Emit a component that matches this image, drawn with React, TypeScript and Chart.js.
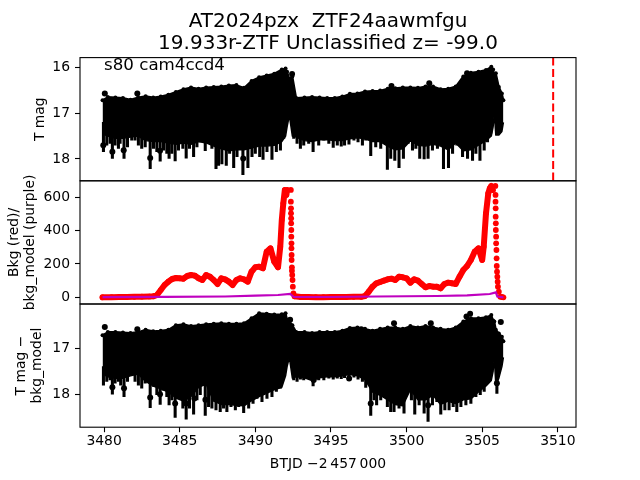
import React, { useEffect, useRef } from "react";
import { Chart, registerables } from "chart.js";

Chart.register(...registerables);

const FONT = "'DejaVu Sans'";
const titleLines = ["AT2024pzx  ZTF24aawmfgu", "19.933r-ZTF Unclassified z= -99.0"];
const note = "s80 cam4ccd4";
const noteAt = [3480, 16.06];
const alertTime = [3509.69, 3509.69];
const alertMag = [15.79, 18.48];

const xTicks = [3480, 3485, 3490, 3495, 3500, 3505, 3510];
const magTicks = [16, 17, 18];
const bkgTicks = [0, 200, 400, 600];
const diffTicks = [17, 18];

const times = [
  3479.9, 3480.25, 3480.75, 3481.25, 3481.75, 3482.25, 3482.75, 3483.25, 3483.75, 3484.25, 3484.75, 3485.25, 3485.75, 3486.25, 3486.75, 3487.25, 3487.75, 3488.25, 3488.75, 3489.25, 3489.75, 3490.25, 3490.75, 3491.25, 3491.75, 3492.0, 3492.1,
  3492.25,
  3492.45, 3492.7, 3493.25, 3493.75, 3494.25, 3494.75, 3495.25, 3495.75, 3496.25, 3496.75, 3497.25, 3497.75, 3498.25, 3498.75, 3499.25, 3499.75, 3500.25, 3500.75, 3501.25, 3501.75, 3502.25, 3502.75, 3503.25, 3503.75, 3504.25, 3504.75, 3505.25, 3505.6, 3505.72,
  3505.8,
  3505.9, 3506.1, 3506.3, 3506.4,
];
const magTop = [
  16.72, 16.65, 16.66, 16.67, 16.71, 16.66, 16.63, 16.66, 16.64, 16.6, 16.54, 16.48, 16.44, 16.47, 16.44, 16.43, 16.42, 16.4, 16.39, 16.45, 16.3, 16.22, 16.18, 16.14, 16.05, 16.03, 16.1,
  16.25,
  16.2, 16.67, 16.66, 16.65, 16.66, 16.67, 16.67, 16.64, 16.58, 16.57, 16.53, 16.52, 16.51, 16.47, 16.46, 16.44, 16.44, 16.45, 16.42, 16.42, 16.48, 16.47, 16.42, 16.2, 16.12, 16.1, 16.06, 15.99, 16.05,
  16.2,
  16.13, 16.43, 16.57, 16.72,
];
const magLow = [
  17.45, 17.5, 17.55, 17.55, 17.52, 17.5, 17.6, 17.62, 17.62, 17.65, 17.68, 17.65, 17.68, 17.62, 17.65, 17.72, 17.78, 17.82, 17.8, 17.8, 17.76, 17.72, 17.72, 17.7, 17.62, 17.5, 17.3,
  17.05,
  17.5, 17.52, 17.6, 17.62, 17.58, 17.58, 17.6, 17.6, 17.56, 17.54, 17.56, 17.62, 17.62, 17.72, 17.8, 17.78, 17.6, 17.7, 17.72, 17.68, 17.72, 17.8, 17.65, 17.82, 17.8, 17.7, 17.6, 17.5, 17.3,
  17.0,
  17.48, 17.48, 17.4, 17.2,
];
const diffTop = [
  16.72, 16.65, 16.65, 16.66, 16.67, 16.65, 16.6, 16.63, 16.62, 16.6, 16.5, 16.48, 16.52, 16.5, 16.48, 16.47, 16.46, 16.47, 16.47, 16.46, 16.35, 16.24, 16.25, 16.27, 16.26, 16.24, 16.38,
  16.42,
  16.5, 16.65, 16.65, 16.67, 16.65, 16.65, 16.65, 16.62, 16.56, 16.55, 16.58, 16.62, 16.58, 16.55, 16.55, 16.58, 16.52, 16.55, 16.52, 16.55, 16.58, 16.6, 16.55, 16.42, 16.35, 16.35, 16.33, 16.28, 16.4,
  16.42,
  16.6, 16.68, 16.75, 16.85,
];
const diffLow = [
  17.55, 17.62, 17.65, 17.65, 17.6, 17.56, 17.72, 17.82, 17.88, 17.95, 18.08, 18.15, 18.05, 17.85, 17.78, 18.15, 18.22, 18.22, 18.24, 18.25, 18.14, 18.05, 17.98, 17.9, 17.85, 17.6, 17.4,
  17.2,
  17.65, 17.62, 17.64, 17.7, 17.64, 17.62, 17.62, 17.6, 17.57, 17.6, 17.68, 17.95, 18.02, 18.12, 18.22, 18.25, 17.9, 18.12, 18.12, 18.02, 18.22, 18.15, 18.2, 18.12, 18.1, 17.95, 17.82, 17.7, 17.5,
  17.2,
  17.8, 17.65, 17.4, 17.2,
];

const magSpikeTime = [3479.96, 3480.18, 3480.4, 3480.55, 3480.73, 3480.95, 3481.06, 3481.32, 3481.55, 3481.83, 3482.05, 3482.27, 3482.49, 3482.72, 3483.05, 3483.27, 3483.49, 3483.71, 3483.93, 3484.15, 3484.3, 3484.48, 3484.7, 3484.92, 3485.21, 3485.43, 3485.65, 3485.92, 3486.14, 3486.36, 3486.53, 3486.69, 3486.91, 3487.13, 3487.4, 3487.57, 3487.79, 3488.08, 3488.3, 3488.57, 3488.79, 3489.18, 3489.51, 3489.78, 3490, 3490.29, 3490.51, 3490.77, 3491.1, 3491.39, 3491.66, 3491.88,
  3492.54, 3492.76, 3492.98, 3493.2, 3493.53, 3493.82, 3494.19, 3494.53, 3494.86, 3495.15, 3495.42, 3495.68, 3495.9, 3496.19, 3496.52, 3496.79, 3497.08, 3497.3, 3497.63, 3497.96, 3498.29, 3498.73, 3498.95, 3499.22, 3499.5, 3499.79, 3500.1, 3500.39, 3500.61, 3500.87, 3501.16, 3501.42, 3501.71, 3502.04, 3502.44, 3502.77, 3503.04, 3503.32, 3503.7, 3504.03, 3504.36, 3504.58, 3504.85, 3505.13, 3505.35, 3505.57];
const magSpikeLow = [17.84, 17.7, 17.66, 17.99, 17.7, 17.77, 17.66, 17.99, 17.74, 17.59, 17.59, 17.7, 17.77, 17.74, 18.21, 17.77, 17.84, 18.05, 17.81, 17.88, 17.99, 17.88, 18.04, 17.81, 17.77, 17.98, 17.77, 17.95, 17.74, 17.63, 17.59, 17.82, 17.66, 17.77, 18.21, 18.14, 18.11, 18.14, 17.88, 18.19, 17.95, 18.34, 18.19, 17.95, 17.88, 17.95, 18.01, 17.84, 18.01, 17.84, 17.81, 17.55,
  17.55, 17.66, 17.77, 17.7, 17.66, 17.84, 17.7, 17.59, 17.66, 17.75, 17.7, 17.72, 17.7, 17.68, 17.59, 17.63, 17.7, 17.59, 17.93, 17.74, 17.77, 18.23, 17.99, 18.03, 18.19, 17.99, 17.66, 17.81, 17.77, 17.99, 18, 17.99, 17.81, 17.77, 18.21, 18.19, 17.88, 17.7, 17.95, 17.99, 18.03, 17.88, 18.03, 17.81, 17.63, 17.44];
const diffSpikeTime = [3479.96, 3480.18, 3480.4, 3480.55, 3480.73, 3480.95, 3481.1, 3481.32, 3481.55, 3481.83, 3482.05, 3482.27, 3482.49, 3482.72, 3483.05, 3483.27, 3483.49, 3483.71, 3483.93, 3484.15, 3484.3, 3484.48, 3484.7, 3484.92, 3485.21, 3485.43, 3485.65, 3485.92, 3486.14, 3486.36, 3486.53, 3486.69, 3486.91, 3487.13, 3487.4, 3487.68, 3487.9, 3488.12, 3488.39, 3488.68, 3488.9, 3489.23, 3489.56, 3489.85, 3490.11, 3490.44, 3490.77, 3491.1, 3491.39, 3491.66, 3491.88,
  3492.54, 3492.76, 3492.98, 3493.2, 3493.53, 3493.82, 3494.19, 3494.53, 3494.86, 3495.15, 3495.42, 3495.68, 3495.9, 3496.19, 3496.52, 3496.79, 3497.08, 3497.3, 3497.63, 3497.85, 3498.02, 3498.29, 3498.73, 3498.95, 3499.17, 3499.5, 3499.83, 3500.1, 3500.32, 3500.54, 3500.83, 3501.16, 3501.42, 3501.71, 3502, 3502.26, 3502.53, 3502.81, 3503.08, 3503.32, 3503.59, 3503.92, 3504.25, 3504.58, 3504.87, 3505.13, 3505.46, 3505.97];
const diffSpikeLow = [17.8, 17.72, 17.69, 18, 17.76, 17.72, 17.8, 18.05, 17.72, 17.58, 17.72, 17.8, 17.87, 17.76, 18.29, 17.83, 18.01, 18.22, 17.91, 18.05, 18.23, 18.12, 18.5, 18.05, 18.3, 18.54, 18.3, 18.43, 18.12, 18.01, 17.8, 18.46, 18.27, 18.3, 18.34, 18.38, 18.3, 18.38, 18.27, 18.34, 18.27, 18.4, 18.3, 18.2, 18.09, 18.16, 18.09, 18.05, 17.94, 17.87, 17.58,
  17.69, 17.72, 17.67, 17.69, 17.65, 17.82, 17.69, 17.69, 17.65, 17.67, 17.65, 17.66, 17.64, 17.67, 17.63, 17.67, 17.72, 17.85, 18.46, 18.12, 18.23, 18.12, 18.27, 18.38, 18.38, 18.3, 18.41, 17.76, 18.12, 18.43, 18.23, 18.41, 18.59, 18.23, 18.16, 18.43, 18.34, 18.34, 18.27, 18.38, 18.27, 18.23, 18.2, 18.05, 18.01, 17.94, 17.69, 17.98];

const magOutTime = [3479.95, 3480.05, 3480.55, 3481.3, 3482.2, 3483.05, 3483.7, 3489.2, 3492.43, 3499.0, 3501.5, 3504.0];
const magOutVal = [17.7, 16.57, 17.84, 17.81, 16.57, 17.98, 17.82, 17.99, 16.15, 16.41, 16.35, 16.13];
const diffOutTime = [3480.05, 3480.55, 3481.32, 3482.2, 3483.05, 3483.7, 3484.7, 3485.43, 3485.97, 3486.7, 3492.3, 3493.86, 3496.2, 3497.0, 3497.63, 3499.17, 3501.42, 3501.6, 3503.96, 3504.2, 3505.97, 3506.23];
const diffOutVal = [16.54, 17.85, 17.87, 16.59, 18.07, 18.0, 18.2, 18.2, 18.09, 18.12, 16.38, 17.69, 17.66, 16.59, 18.2, 16.46, 18.24, 16.46, 16.31, 16.25, 17.76, 16.43];

const bkgBandTime = [
  3479.9, 3480.5, 3481, 3481.5, 3482, 3482.5, 3483, 3483.25, 3483.5, 3483.75, 3484, 3484.25, 3484.5, 3484.75, 3485, 3485.25, 3485.5, 3485.75, 3486, 3486.25, 3486.5, 3486.75, 3487, 3487.25, 3487.5, 3487.75, 3488, 3488.25, 3488.5, 3488.75, 3489, 3489.25, 3489.5, 3489.75, 3490, 3490.25, 3490.5, 3490.75, 3491, 3491.25, 3491.5, 3491.65, 3491.75, 3491.85, 3491.95, 3492.05, 3492.1,
  3492.3,
  3492.6, 3493, 3493.5, 3494, 3494.5, 3495, 3495.5, 3496, 3496.5, 3497, 3497.25, 3497.5, 3497.75, 3498, 3498.25, 3498.5, 3498.75, 3499, 3499.25, 3499.5, 3499.75, 3500, 3500.25, 3500.5, 3500.75, 3501, 3501.25, 3501.5, 3501.75, 3502, 3502.25, 3502.5, 3502.75, 3503, 3503.25, 3503.5, 3503.75, 3504, 3504.25, 3504.5, 3504.75, 3505, 3505.1, 3505.25, 3505.4, 3505.5, 3505.6, 3505.7,
];
const bkgBandVal = [
  0, 1, 2, 2, 3, 4, 5, 6, 14, 44, 74, 94, 110, 116, 114, 112, 128, 134, 130, 114, 104, 134, 124, 104, 80, 114, 108, 94, 74, 104, 114, 108, 94, 154, 180, 184, 174, 274, 294, 214, 180, 304, 464, 564, 644, 614, 644,
  null,
  6, 2, 2, 1, 1, 2, 2, 2, 3, 3, 8, 34, 64, 84, 92, 100, 108, 112, 104, 124, 120, 114, 88, 108, 100, 80, 60, 68, 64, 64, 54, 80, 88, 84, 80, 124, 164, 188, 224, 274, 294, 224, 304, 504, 624, 654, 668, 644,
];
const bkgDropTime = [3492.35, 3492.35, 3492.36, 3492.36, 3492.37, 3492.37, 3492.38, 3492.38, 3492.39, 3492.39, 3492.4, 3492.4, 3492.42, 3492.42, 3492.44, 3492.46, 3492.48, 3492.52, 3505.87, 3505.88, 3505.88, 3505.89, 3505.89, 3505.9, 3505.9, 3505.92, 3505.92, 3505.94, 3505.95, 3505.96, 3505.98, 3506, 3506.02, 3506.04, 3506.1, 3506.2, 3506.3, 3506.4];
const bkgDropVal = [644, 574, 534, 504, 474, 444, 404, 364, 324, 294, 254, 224, 180, 160, 134, 104, 64, 24, 668, 614, 574, 534, 484, 444, 404, 364, 324, 284, 234, 188, 154, 124, 94, 64, 34, 4, 2, 0];
const modelTime = [3479.9, 3484, 3488, 3490, 3491.5, 3492.3, 3492.55, 3495, 3498, 3502, 3504, 3505.5, 3505.9, 3506, 3506.4];
const modelVal = [1, 3, 5, 10, 14, 20, 2, 2, 5, 8, 12, 20, 30, 5, 0];

const points = (xs: number[], ys: (number | null)[]) => xs.map((x, i) => ({ x, y: ys[i] }));
const spikes = (xs: number[], lows: number[], start: number) => xs.map((x, i) => ({ x, y: [start, lows[i]] }));

const frame = {
  id: "frame",
  afterDraw(chart: any) {
    const { ctx, chartArea, scales } = chart;
    ctx.save();
    ctx.strokeStyle = "#000";
    ctx.lineWidth = 1.1;
    for (const id of ["y1", "y2", "y3"]) {
      const s = scales[id];
      ctx.strokeRect(chartArea.left, s.top, chartArea.width, s.height);
    }
    ctx.fillStyle = "#000";
    ctx.font = `16.67px ${FONT}`;
    ctx.textBaseline = "alphabetic";
    ctx.fillText(note, scales.x.getPixelForValue(noteAt[0]), scales.y1.getPixelForValue(noteAt[1]));
    ctx.restore();
  },
};

function yAxis(weight: number, min: number, max: number, reverse: boolean, ticks: number[], text: string[], pad: number) {
  return {
    type: "linear",
    position: "left",
    stack: "panels",
    stackWeight: 1,
    weight,
    min,
    max,
    reverse,
    afterFit: (s: any) => { s.width = 80; },
    afterBuildTicks: (s: any) => { s.ticks = ticks.map((value) => ({ value })); },
    grid: { drawOnChartArea: false, drawTicks: true, tickLength: 5, tickColor: "#000", tickWidth: 1.1 },
    border: { display: false },
    ticks: { color: "#000", font: { family: FONT, size: 13.9 }, padding: 5, callback: (v: any) => String(v) },
    title: { display: true, text, color: "#000", font: { family: FONT, size: 13.9, lineHeight: 1.15 }, padding: { top: pad, bottom: 0 } },
  };
}

function bodyDatasets(axis: string, top: (number | null)[], low: (number | null)[], st: number[], sl: number[], spikeStart: number, ot: number[], ov: number[]) {
  return [
    { type: "scatter", yAxisID: axis, data: points(ot, ov), showLine: false, pointRadius: 3, pointBorderWidth: 0, backgroundColor: "#000", borderColor: "#000", order: 3 },
    { type: "bar", yAxisID: axis, data: spikes(st, sl, spikeStart), backgroundColor: "#000", barThickness: 2.4, grouped: false, order: 4 },
    { type: "line", yAxisID: axis, data: points(times, top), borderColor: "#000", backgroundColor: "#000", borderWidth: 2, borderJoinStyle: "round", pointRadius: 2, pointBorderWidth: 0, fill: "+1", spanGaps: false, order: 5 },
    { type: "line", yAxisID: axis, data: points(times, low), borderColor: "#000", backgroundColor: "#000", borderWidth: 1.5, borderJoinStyle: "round", pointRadius: 0, fill: false, spanGaps: false, order: 6 },
  ];
}

export default function App() {
  const ref = useRef<HTMLCanvasElement>(null);
  useEffect(() => {
    const chart = new Chart(ref.current as HTMLCanvasElement, {
      type: "line",
      data: {
        datasets: [
          { type: "line", yAxisID: "y1", data: points(alertTime, alertMag), borderColor: "#ff0000", borderWidth: 2, borderDash: [8, 3.5], pointRadius: 0, order: 0 },
          ...bodyDatasets("y1", magTop, magLow, magSpikeTime, magSpikeLow, 17.2, magOutTime, magOutVal),
          { type: "line", yAxisID: "y2", data: points(modelTime, modelVal), borderColor: "#bf00bf", borderWidth: 2.2, pointRadius: 0, order: 1 },
          { type: "line", yAxisID: "y2", data: points(bkgBandTime, bkgBandVal), borderColor: "#ff0000", backgroundColor: "#ff0000", borderWidth: 6, borderJoinStyle: "round", borderCapStyle: "round", pointRadius: 2.8, pointBorderWidth: 0, spanGaps: false, order: 2 },
          { type: "line", yAxisID: "y2", data: points(bkgDropTime, bkgDropVal), showLine: false, pointRadius: 2.9, pointBorderWidth: 0, backgroundColor: "#ff0000", borderColor: "#ff0000", order: 2 },
          ...bodyDatasets("y3", diffTop, diffLow, diffSpikeTime, diffSpikeLow, 17.4, diffOutTime, diffOutVal),
        ] as any,
      },
      options: {
        responsive: false,
        animation: false,
        layout: { autoPadding: false, padding: { left: 0, right: 64, top: 0, bottom: 0 } },
        plugins: {
          legend: { display: false },
          tooltip: { enabled: false },
          title: {
            display: true,
            fullSize: false,
            text: titleLines,
            color: "#000",
            font: { family: FONT, size: 20, weight: "normal", lineHeight: 1.1 },
            padding: { top: 11, bottom: 2.6 },
          },
        },
        scales: {
          x: {
            type: "linear",
            offset: false,
            min: 3478.41,
            max: 3511.2,
            afterFit: (s: any) => { s.height = 52.8; },
            afterBuildTicks: (s: any) => { s.ticks = xTicks.map((value) => ({ value })); },
            grid: { offset: false, drawOnChartArea: false, drawTicks: true, tickLength: 5, tickColor: "#000", tickWidth: 1.1 },
            border: { display: false },
            ticks: { color: "#000", font: { family: FONT, size: 13.9 }, maxRotation: 0, autoSkip: false, padding: 1, callback: (v: any) => String(v) },
            title: { display: true, text: "BTJD \u22122\u2009457\u2009000", color: "#000", font: { family: FONT, size: 13.9 }, padding: { top: 3, bottom: 7 } },
          },
          y1: yAxis(3, 15.79, 18.476, true, magTicks, ["T mag"], 32),
          y2: yAxis(2, -40, 699, false, bkgTicks, ["Bkg (red)/", "bkg_model (purple)"], 6),
          y3: yAxis(1, 16.04, 18.715, true, diffTicks, ["T mag \u2212", "bkg_model"], 13),
        } as any,
      },
      plugins: [frame],
    });
    return () => chart.destroy();
  }, []);
  return (
    <div style={{ position: "fixed", left: 0, top: 0, width: 640, height: 480, background: "#fff" }}>
      <canvas ref={ref} width={640} height={480} style={{ display: "block" }} />
    </div>
  );
}
